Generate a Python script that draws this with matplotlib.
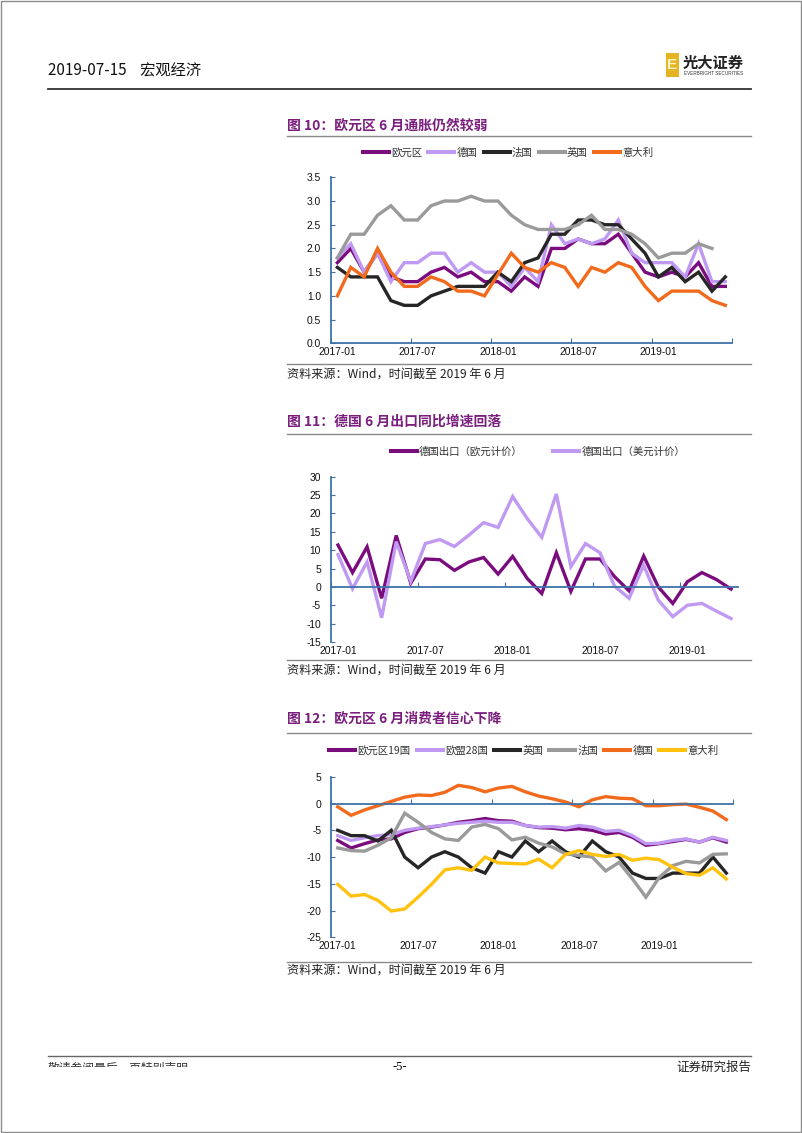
import numpy as np
import matplotlib
matplotlib.use("Agg")
import matplotlib.pyplot as plt
from matplotlib.lines import Line2D
from matplotlib.patches import Rectangle
from matplotlib.transforms import Bbox

plt.rcParams['font.family'] = ['Liberation Sans', 'Noto Sans CJK SC', 'DejaVu Sans']
CJK = ['Noto Sans CJK SC', 'DejaVu Sans']

W, H = 802, 1133

# ---------------- data ----------------
tick_labels = ['2017-01', '2017-07', '2018-01', '2018-07', '2019-01']

# Chart 10: HICP YoY (%)
c10_names = ['欧元区', '德国', '法国', '英国', '意大利']
c10_ea = [1.7, 2.0, 1.5, 1.9, 1.4, 1.3, 1.3, 1.5, 1.6, 1.4, 1.5, 1.3, 1.3, 1.1, 1.4,
          1.2, 2.0, 2.0, 2.2, 2.1, 2.1, 2.3, 1.9, 1.5, 1.4, 1.5, 1.4, 1.7, 1.2, 1.2]
c10_de = [1.8, 2.1, 1.5, 1.9, 1.3, 1.7, 1.7, 1.9, 1.9, 1.5, 1.7, 1.5, 1.5, 1.2, 1.6,
          1.3, 2.5, 2.1, 2.2, 2.1, 2.2, 2.6, 1.9, 1.7, 1.7, 1.7, 1.4, 2.1, 1.3, 1.3]
c10_fr = [1.6, 1.4, 1.4, 1.4, 0.9, 0.8, 0.8, 1.0, 1.1, 1.2, 1.2, 1.2, 1.5, 1.3, 1.7,
          1.8, 2.3, 2.3, 2.6, 2.6, 2.5, 2.5, 2.2, 1.9, 1.4, 1.6, 1.3, 1.5, 1.1, 1.4]
c10_uk = [1.8, 2.3, 2.3, 2.7, 2.9, 2.6, 2.6, 2.9, 3.0, 3.0, 3.1, 3.0, 3.0, 2.7, 2.5,
          2.4, 2.4, 2.4, 2.5, 2.7, 2.4, 2.4, 2.3, 2.1, 1.8, 1.9, 1.9, 2.1, 2.0, np.nan]
c10_it = [1.0, 1.6, 1.4, 2.0, 1.5, 1.2, 1.2, 1.4, 1.3, 1.1, 1.1, 1.0, 1.45, 1.9, 1.6,
          1.5, 1.7, 1.6, 1.2, 1.6, 1.5, 1.7, 1.6, 1.2, 0.9, 1.1, 1.1, 1.1, 0.9, 0.8]

# Chart 11: German exports YoY (%)
c11_names = ['德国出口（欧元计价）', '德国出口（美元计价）']
c11_eur = [11.4, 3.9, 10.9, -3.1, 14.0, 1.0, 7.6, 7.4, 4.5, 6.8, 8.0, 3.5, 8.3, 2.3,
           -1.8, 9.3, -1.2, 7.6, 7.6, 2.8, -1.1, 8.4, 0.0, -4.5, 1.4, 3.9, 2.0, -0.6]
c11_usd = [8.8, -0.5, 6.8, -8.4, 12.3, 1.5, 11.8, 12.9, 11.0, 14.1, 17.5, 16.2, 24.6,
           18.6, 13.5, 25.3, 5.5, 11.8, 9.3, 0.2, -3.1, 5.9, -3.6, -8.1, -5.0, -4.5, -6.6, -8.6]

# Chart 12: consumer confidence
c12_names = ['欧元区19国', '欧盟28国', '英国', '法国', '德国', '意大利']
c12_ez = [-6.9, -8.3, -7.5, -6.8, -6.6, -5.4, -4.7, -4.4, -4.0, -3.5, -3.2, -2.8, -3.2, -3.3, -4.1,
          -4.5, -4.6, -4.9, -4.7, -5.0, -5.7, -5.4, -6.3, -7.8, -7.5, -7.1, -6.7, -7.2, -6.4, -7.2]
c12_eu = [-6.0, -6.9, -6.4, -6.0, -5.8, -5.0, -4.6, -4.3, -4.0, -3.7, -3.5, -3.3, -3.5, -3.5, -4.1,
          -4.4, -4.3, -4.6, -4.1, -4.4, -5.2, -5.0, -6.0, -7.5, -7.4, -6.9, -6.6, -7.2, -6.3, -6.9]
c12_uk = [-5, -6, -6, -7, -5, -10, -12, -10, -9, -10, -12, -13, -9, -10, -7,
          -9, -7, -9, -10, -7, -9, -10, -13, -14, -14, -13, -13, -13, -10, -13]
c12_fr = [-8.3, -8.8, -8.9, -7.8, -6.4, -1.8, -3.5, -5.4, -6.6, -6.9, -4.4, -3.9, -4.7, -6.8, -6.3,
          -7.4, -8.1, -9.4, -9.7, -10.0, -12.6, -11.0, -14.1, -17.5, -13.8, -11.6, -10.8, -11.1, -9.5, -9.4]
c12_de = [-0.6, -2.2, -1.2, -0.4, 0.4, 1.2, 1.6, 1.5, 2.1, 3.4, 3.0, 2.2, 2.9, 3.2, 2.2,
          1.4, 0.9, 0.3, -0.6, 0.7, 1.3, 1.0, 0.9, -0.4, -0.4, -0.2, -0.1, -0.7, -1.4, -3.0]
c12_it = [-15.1, -17.3, -17.0, -18.1, -20.1, -19.7, -17.5, -15.1, -12.4, -12.0, -12.5, -10.0, -11.1, -11.2, -11.3,
          -10.4, -12.0, -9.5, -8.8, -9.5, -9.9, -9.5, -10.6, -10.2, -10.5, -11.9, -13.1, -13.4, -12.0, -14.1]

# ---------------- styles ----------------
PURPLE = '#7B0C7E'
LILAC = '#C09AF2'
BLACK = '#262626'
GRAY = '#9A9A9A'
ORANGE = '#F26A1B'
YELLOW = '#FFC20E'
AXCOL = '#3F72A8'
TITLE_COL = '#7A1F7E'
LW = 2.4

fig = plt.figure(figsize=(W / 100, H / 100), dpi=100)


def fx(x):
    return x / W


def fy(y):
    return 1 - y / H


def hline(x0, x1, y, color='#555555', lw=1.0):
    fig.add_artist(Line2D([fx(x0), fx(x1)], [fy(y), fy(y)], color=color, lw=lw,
                          transform=fig.transFigure))


# page border
fig.add_artist(Rectangle((0.0008, 0.0006), 0.998, 0.9985, fill=False, ec='#8c8c8c', lw=1.0,
                         transform=fig.transFigure))

# header
fig.text(fx(48), fy(71), '2019-07-15    宏观经济', family=CJK, fontsize=11, color='#111111',
         va='center', ha='left')
hline(48, 751, 89, color='#333333', lw=1.3)
fig.add_artist(Rectangle((fx(666), fy(77)), (679 - 666) / W, 24 / H, fc='#E6B422', ec='none',
                         transform=fig.transFigure))
fig.text(fx(672.5), fy(65), 'E', fontsize=11, color='#FFF4C8', weight='bold', ha='center', va='center')
fig.text(fx(683), fy(63), '光大证券', family=CJK, fontsize=11, weight='bold', color='#222222',
         ha='left', va='center')
fig.text(fx(684), fy(73.5), 'EVERBRIGHT SECURITIES', fontsize=3.3, color='#333333', ha='left', va='center')

# footer
hline(48, 751, 1056, color='#666666', lw=1.0)
t = fig.text(fx(48), fy(1068), '敬请参阅最后一页特别声明', family=CJK, fontsize=8.5, color='#333333',
             ha='left', va='center')
t.set_clip_box(Bbox([[0, fy(1066.5) * H], [W, H]]))
t.set_clip_on(True)
fig.text(fx(400), fy(1067), '-5-', family=['Liberation Serif'], fontsize=9, ha='center', va='center')
fig.text(fx(751), fy(1067), '证券研究报告', family=CJK, fontsize=9, color='#222222', ha='right', va='center')


def chart(title, ty, tline, leg_names, leg_cols, leg_c, leg_y, colspace,
          box, ylim, yticks, ylab_fmt, xmax, series, cols, zero_axis, src_line, src_y,
          end_tick):
    fig.text(fx(287), fy(ty), title, family=CJK, fontsize=10, weight='bold', color=TITLE_COL,
             ha='left', va='center')
    hline(287, 751, tline, color='#8a8a8a', lw=1.0)
    x0, x1, ytop, ybot = box
    ax = fig.add_axes([fx(x0), fy(ybot), (x1 - x0) / W, (ybot - ytop) / H])
    n = len(series[0])
    xs = np.arange(n) + 0.5
    for s, c in zip(series, cols):
        ax.plot(xs, s, color=c, lw=LW, solid_joinstyle='miter')
    ax.set_xlim(0, xmax)
    ax.set_ylim(*ylim)
    ax.set_yticks(yticks)
    ax.set_yticklabels([ylab_fmt.format(v) for v in yticks])
    for s in ['top', 'right']:
        ax.spines[s].set_visible(False)
    ax.spines['left'].set_color(AXCOL)
    ax.spines['left'].set_linewidth(1.3)
    ax.spines['bottom'].set_color(AXCOL)
    ax.spines['bottom'].set_linewidth(1.3)
    ax.tick_params(axis='y', direction='in', length=3, color=AXCOL, labelsize=7.4, pad=7,
                   labelcolor='#111111')
    major = [0, 6, 12, 18, 24] + ([xmax] if end_tick else [])
    ax.set_xticks(major)
    ax.set_xticklabels([''] * len(major))
    ax.tick_params(axis='x', which='major', direction='in', length=3.5, color=AXCOL)
    if zero_axis:
        ax.spines['bottom'].set_position(('data', 0))
        sec = ax.secondary_xaxis('bottom')
        sec.set_xticks([0.5, 6.5, 12.5, 18.5, 24.5])
        sec.set_xticklabels(tick_labels)
        sec.spines['bottom'].set_visible(False)
        sec.tick_params(length=0, labelsize=7.4, pad=3, labelcolor='#111111')
    else:
        ax.set_xticks([0.5, 6.5, 12.5, 18.5, 24.5], minor=True)
        ax.set_xticklabels(tick_labels, minor=True)
        ax.tick_params(axis='x', which='minor', length=0, labelsize=7.4, pad=3, labelcolor='#111111')
    ax.set_facecolor('none')
    handles = [Line2D([], [], color=c, lw=LW + 0.5) for c in leg_cols]
    fig.legend(handles, leg_names, loc='center', bbox_to_anchor=(fx(leg_c), fy(leg_y)),
               ncol=len(leg_names), frameon=False, handlelength=2.5, handletextpad=0.2,
               columnspacing=colspace, borderaxespad=0, borderpad=0,
               prop={'family': CJK, 'size': 7.5}, labelcolor='#333333')
    hline(287, 751, src_line, color='#8a8a8a', lw=1.0)
    fig.text(fx(287), fy(src_y), '资料来源：Wind，时间截至 2019 年 6 月', family=CJK, fontsize=8.7,
             color='#222222', ha='left', va='center')
    return ax


chart('图 10：欧元区 6 月通胀仍然较弱', 126, 135.5, c10_names,
      [PURPLE, LILAC, BLACK, GRAY, ORANGE], 508, 153, 0.6,
      (330.7, 732, 177.3, 343.3), (0, 3.5), [0, 0.5, 1, 1.5, 2, 2.5, 3, 3.5], '{:.1f}', 30,
      [c10_ea, c10_de, c10_fr, c10_uk, c10_it], [PURPLE, LILAC, BLACK, GRAY, ORANGE],
      False, 364, 374.5, True)

chart('图 11：德国 6 月出口同比增速回落', 422, 434, c11_names,
      [PURPLE, LILAC], 538, 452, 2.9,
      (330.7, 738.3, 476.7, 642), (-15, 30), [-15, -10, -5, 0, 5, 10, 15, 20, 25, 30], '{:d}', 28,
      [c11_eur, c11_usd], [PURPLE, LILAC],
      True, 660, 670.5, False)

chart('图 12：欧元区 6 月消费者信心下降', 719, 733, c12_names,
      [PURPLE, LILAC, BLACK, GRAY, ORANGE, YELLOW], 524, 751, 0.6,
      (331, 733, 776.8, 937.3), (-25, 5), [-25, -20, -15, -10, -5, 0, 5], '{:d}', 30,
      [c12_ez, c12_eu, c12_uk, c12_fr, c12_de, c12_it], [PURPLE, LILAC, BLACK, GRAY, ORANGE, YELLOW],
      True, 962, 970.5, True)

fig.savefig('out.png', dpi=100)
